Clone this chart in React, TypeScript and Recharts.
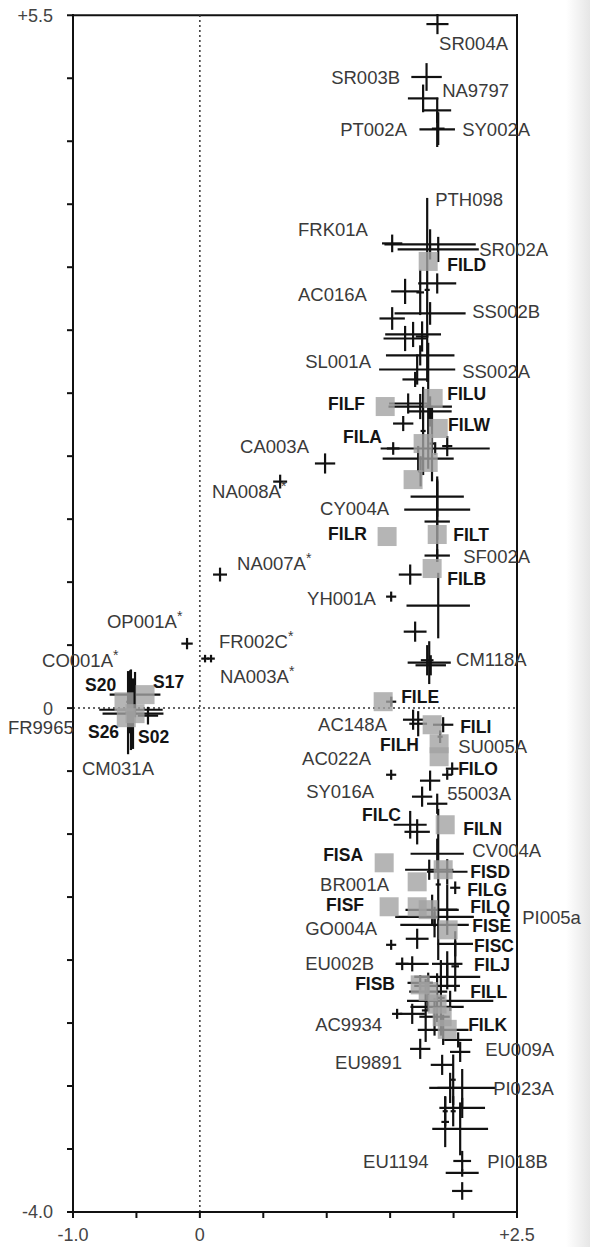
import { ScatterChart, Scatter, XAxis, YAxis, ErrorBar, ReferenceLine, ReferenceDot } from 'recharts';

// crosses: x, y and the half-length of each error bar (ex, ey)
const upperGroup = [
  { x: 1.873, y: 5.43, ex: 0.087, ey: 0.08 },
  { x: 1.787, y: 5.01, ex: 0.12, ey: 0.11 },
  { x: 1.76, y: 4.84, ex: 0.12, ey: 0.11 },
  { x: 1.871, y: 4.745, ex: 0.11, ey: 0.1 },
  { x: 1.871, y: 4.594, ex: 0.14, ey: 0.14 },
  { x: 1.879, y: 4.6, ex: 0.05, ey: 0.13 },
  { x: 1.516, y: 3.689, ex: 0.08, ey: 0.07 },
  { x: 1.815, y: 3.681, ex: 0.36, ey: 0.12 },
  { x: 1.879, y: 3.641, ex: 0.32, ey: 0.1 },
  { x: 1.792, y: 3.32, ex: 0.02, ey: 0.73 },
  { x: 1.871, y: 3.371, ex: 0.15, ey: 0.08 },
  { x: 1.618, y: 3.308, ex: 0.11, ey: 0.1 },
  { x: 1.737, y: 3.3, ex: 0.03, ey: 0.18 },
  { x: 1.815, y: 3.133, ex: 0.28, ey: 0.09 },
  { x: 1.516, y: 3.093, ex: 0.1, ey: 0.09 },
  { x: 1.681, y: 2.966, ex: 0.22, ey: 0.1 },
  { x: 1.618, y: 2.934, ex: 0.17, ey: 0.1 },
  { x: 1.752, y: 2.95, ex: 0.05, ey: 0.12 },
  { x: 1.737, y: 2.8, ex: 0.27, ey: 0.08 },
  { x: 1.713, y: 2.688, ex: 0.3, ey: 0.12 },
  { x: 1.697, y: 2.609, ex: 0.1, ey: 0.06 },
  { x: 1.642, y: 2.418, ex: 0.15, ey: 0.08 },
  { x: 1.737, y: 2.394, ex: 0.25, ey: 0.1 },
  { x: 1.815, y: 2.355, ex: 0.17, ey: 0.12 },
  { x: 1.603, y: 2.259, ex: 0.08, ey: 0.06 },
  { x: 1.524, y: 2.061, ex: 0.05, ey: 0.05 },
  { x: 1.855, y: 2.061, ex: 0.43, ey: 0.05 },
  { x: 1.95, y: 2.08, ex: 0.04, ey: 0.08 },
  { x: 1.721, y: 1.981, ex: 0.28, ey: 0.1 },
  { x: 1.8, y: 2.4, ex: 0.02, ey: 0.5 },
  { x: 1.76, y: 2.2, ex: 0.02, ey: 0.35 },
  { x: 1.83, y: 2.1, ex: 0.02, ey: 0.3 },
  { x: 1.74, y: 1.88, ex: 0.02, ey: 0.12 },
];

const middleGroup = [
  { x: 1.871, y: 1.679, ex: 0.21, ey: 0.16 },
  { x: 1.871, y: 1.576, ex: 0.26, ey: 0.24 },
  { x: 1.871, y: 1.481, ex: 0.1, ey: 0.32 },
  { x: 1.871, y: 1.211, ex: 0.1, ey: 0.05 },
  { x: 1.658, y: 1.06, ex: 0.09, ey: 0.08 },
  { x: 1.879, y: 0.814, ex: 0.25, ey: 0.26 },
  { x: 1.697, y: 0.607, ex: 0.09, ey: 0.08 },
  { x: 1.808, y: 0.361, ex: 0.17, ey: 0.17 },
  { x: 1.792, y: 0.38, ex: 0.05, ey: 0.12 },
  { x: 1.82, y: 0.34, ex: 0.12, ey: 0.08 },
  { x: 1.681, y: -0.092, ex: 0.08, ey: 0.08 },
  { x: 1.721, y: -0.124, ex: 0.07, ey: 0.1 },
  { x: 1.918, y: -0.132, ex: 0.08, ey: 0.06 },
  { x: 1.894, y: -0.227, ex: 0.02, ey: 0.05 },
  { x: 1.815, y: -0.576, ex: 0.08, ey: 0.08 },
  { x: 1.752, y: -0.703, ex: 0.08, ey: 0.08 },
  { x: 1.871, y: -0.759, ex: 0.08, ey: 0.08 },
  { x: 1.658, y: -0.926, ex: 0.13, ey: 0.11 },
  { x: 1.713, y: -0.982, ex: 0.1, ey: 0.1 },
  { x: 1.879, y: -1.4, ex: 0.02, ey: 0.6 },
];

const lowerGroup = [
  { x: 1.871, y: -1.156, ex: 0.21, ey: 0.12 },
  { x: 1.808, y: -1.283, ex: 0.19, ey: 0.08 },
  { x: 1.95, y: -1.299, ex: 0.16, ey: 0.1 },
  { x: 1.831, y: -1.601, ex: 0.21, ey: 0.12 },
  { x: 1.95, y: -1.6, ex: 0.08, ey: 0.2 },
  { x: 1.85, y: -1.657, ex: 0.31, ey: 0.08 },
  { x: 1.85, y: -1.72, ex: 0.27, ey: 0.1 },
  { x: 1.713, y: -1.831, ex: 0.09, ey: 0.08 },
  { x: 2.013, y: -1.871, ex: 0.14, ey: 0.1 },
  { x: 1.674, y: -2.03, ex: 0.13, ey: 0.06 },
  { x: 1.95, y: -2.03, ex: 0.12, ey: 0.1 },
  { x: 2.013, y: -2.05, ex: 0.03, ey: 0.2 },
  { x: 1.737, y: -2.181, ex: 0.1, ey: 0.06 },
  { x: 1.95, y: -2.133, ex: 0.26, ey: 0.1 },
  { x: 1.87, y: -2.205, ex: 0.18, ey: 0.1 },
  { x: 1.8, y: -2.25, ex: 0.15, ey: 0.15 },
  { x: 1.973, y: -2.324, ex: 0.34, ey: 0.08 },
  { x: 1.9, y: -2.3, ex: 0.03, ey: 0.3 },
  { x: 1.78, y: -2.4, ex: 0.03, ey: 0.25 },
  { x: 1.674, y: -2.427, ex: 0.1, ey: 0.08 },
  { x: 1.87, y: -2.372, ex: 0.21, ey: 0.12 },
  { x: 1.85, y: -2.45, ex: 0.12, ey: 0.15 },
  { x: 1.918, y: -2.554, ex: 0.2, ey: 0.12 },
  { x: 2.036, y: -2.634, ex: 0.11, ey: 0.06 },
  { x: 2.052, y: -2.729, ex: 0.08, ey: 0.08 },
  { x: 1.737, y: -2.705, ex: 0.08, ey: 0.08 },
  { x: 1.91, y: -2.832, ex: 0.09, ey: 0.08 },
  { x: 1.997, y: -2.95, ex: 0.02, ey: 0.2 },
  { x: 2.068, y: -3.015, ex: 0.26, ey: 0.15 },
  { x: 1.973, y: -3.015, ex: 0.1, ey: 0.12 },
  { x: 2.068, y: -3.174, ex: 0.18, ey: 0.08 },
  { x: 1.934, y: -3.2, ex: 0.02, ey: 0.12 },
  { x: 1.997, y: -3.2, ex: 0.02, ey: 0.12 },
  { x: 2.052, y: -3.34, ex: 0.22, ey: 0.21 },
  { x: 1.934, y: -3.285, ex: 0.03, ey: 0.2 },
  { x: 2.068, y: -3.595, ex: 0.07, ey: 0.08 },
  { x: 2.068, y: -3.69, ex: 0.13, ey: 0.03 },
  { x: 2.068, y: -3.833, ex: 0.08, ey: 0.07 },
];

const leftGroup = [
  { x: -0.543, y: -0.013, ex: 0.25, ey: 0.32 },
  { x: -0.527, y: -0.044, ex: 0.24, ey: 0.28 },
  { x: -0.511, y: 0.107, ex: 0.2, ey: 0.18 },
  { x: -0.55, y: 0.05, ex: 0.03, ey: 0.25 },
  { x: -0.409, y: -0.06, ex: 0.08, ey: 0.07 },
  { x: -0.566, y: -0.036, ex: 0.02, ey: 0.33 },
];

const smallMarks = [
  { x: 0.987, y: 1.942, ex: 0.08, ey: 0.08 },
  { x: 0.633, y: 1.798, ex: 0.055, ey: 0.055 },
  { x: 0.159, y: 1.06, ex: 0.055, ey: 0.055 },
  { x: 1.508, y: 0.885, ex: 0.04, ey: 0.04 },
  { x: -0.101, y: 0.512, ex: 0.045, ey: 0.045 },
  { x: 0.041, y: 0.393, ex: 0.03, ey: 0.03 },
  { x: 0.088, y: 0.393, ex: 0.03, ey: 0.03 },
  { x: 1.508, y: 0.051, ex: 0.04, ey: 0.04 },
  { x: 1.989, y: -0.481, ex: 0.05, ey: 0.05 },
  { x: 1.95, y: -0.529, ex: 0.04, ey: 0.04 },
  { x: 1.508, y: -0.529, ex: 0.04, ey: 0.04 },
  { x: 2.013, y: -1.426, ex: 0.04, ey: 0.05 },
  { x: 1.508, y: -1.879, ex: 0.04, ey: 0.04 },
  { x: 1.595, y: -2.03, ex: 0.05, ey: 0.05 },
  { x: 1.555, y: -2.427, ex: 0.04, ey: 0.04 },
];

// grey squares (FIL*, FIS*, S*)
const filSquares = [
  { x: 1.8, y: 3.546 }, { x: 1.461, y: 2.394 }, { x: 1.839, y: 2.458 }, { x: 1.879, y: 2.22 },
  { x: 1.8, y: 1.95 }, { x: 1.76, y: 2.1 }, { x: 1.681, y: 1.814 }, { x: 1.476, y: 1.362 },
  { x: 1.871, y: 1.378 }, { x: 1.831, y: 1.108 }, { x: 1.445, y: 0.051 }, { x: 1.831, y: -0.132 },
  { x: 1.886, y: -0.283 }, { x: 1.886, y: -0.386 }, { x: 1.934, y: -0.926 }, { x: 1.453, y: -1.228 },
  { x: 1.713, y: -1.379 }, { x: 1.918, y: -1.283 }, { x: 1.492, y: -1.577 }, { x: 1.713, y: -1.577 },
  { x: 1.8, y: -1.6 }, { x: 1.957, y: -1.76 }, { x: 1.737, y: -2.197 }, { x: 1.8, y: -2.25 },
  { x: 1.87, y: -2.35 }, { x: 1.91, y: -2.45 }, { x: 1.95, y: -2.55 },
];
const sSquares = [
  { x: -0.598, y: 0.05 }, { x: -0.432, y: 0.107 }, { x: -0.511, y: -0.044 }, { x: -0.58, y: -0.076 },
];

// label anchors (left edge of the text, vertical centre)
const plainLabels = [
  { name: 'SR004A', x: 1.886, y: 5.278 },
  { name: 'SR003B', x: 1.035, y: 5.008 },
  { name: 'NA9797', x: 1.91, y: 4.904 },
  { name: 'PT002A', x: 1.106, y: 4.594 },
  { name: 'SY002A', x: 2.068, y: 4.594 },
  { name: 'PTH098', x: 1.855, y: 4.038 },
  { name: 'FRK01A', x: 0.774, y: 3.8 },
  { name: 'SR002A', x: 2.202, y: 3.641 },
  { name: 'AC016A', x: 0.774, y: 3.284 },
  { name: 'SS002B', x: 2.147, y: 3.149 },
  { name: 'SL001A', x: 0.83, y: 2.752 },
  { name: 'SS002A', x: 2.068, y: 2.672 },
  { name: 'CA003A', x: 0.317, y: 2.077 },
  { name: 'NA008A*', x: 0.096, y: 1.719 },
  { name: 'CY004A', x: 0.948, y: 1.584 },
  { name: 'SF002A', x: 2.076, y: 1.203 },
  { name: 'NA007A*', x: 0.293, y: 1.147 },
  { name: 'YH001A', x: 0.845, y: 0.869 },
  { name: 'OP001A*', x: -0.732, y: 0.687 },
  { name: 'FR002C*', x: 0.151, y: 0.528 },
  { name: 'CM118A', x: 2.02, y: 0.385 },
  { name: 'CO001A*', x: -1.244, y: 0.377 },
  { name: 'NA003A*', x: 0.159, y: 0.25 },
  { name: 'FR9965', x: -1.513, y: -0.155 },
  { name: 'AC148A', x: 0.932, y: -0.132 },
  { name: 'SU005A', x: 2.036, y: -0.306 },
  { name: 'AC022A', x: 0.806, y: -0.402 },
  { name: 'CM031A', x: -0.929, y: -0.481 },
  { name: 'SY016A', x: 0.838, y: -0.664 },
  { name: '55003A', x: 1.95, y: -0.68 },
  { name: 'CV004A', x: 2.147, y: -1.13 },
  { name: 'BR001A', x: 0.948, y: -1.395 },
  { name: 'PI005a', x: 2.541, y: -1.657 },
  { name: 'GO004A', x: 0.83, y: -1.752 },
  { name: 'EU002B', x: 0.83, y: -2.03 },
  { name: 'AC9934', x: 0.909, y: -2.514 },
  { name: 'EU009A', x: 2.249, y: -2.705 },
  { name: 'EU9891', x: 1.066, y: -2.808 },
  { name: 'PI023A', x: 2.312, y: -3.015 },
  { name: 'EU1194', x: 1.287, y: -3.595 },
  { name: 'PI018B', x: 2.265, y: -3.595 },
];

const boldLabels = [
  { name: 'FILD', x: 1.95, y: 3.522 },
  { name: 'FILF', x: 1.011, y: 2.418 },
  { name: 'FILU', x: 1.95, y: 2.498 },
  { name: 'FILW', x: 1.957, y: 2.251 },
  { name: 'FILA', x: 1.129, y: 2.156 },
  { name: 'FILR', x: 1.011, y: 1.386 },
  { name: 'FILT', x: 1.997, y: 1.378 },
  { name: 'FILB', x: 1.95, y: 1.028 },
  { name: 'S20', x: -0.905, y: 0.186 },
  { name: 'S17', x: -0.369, y: 0.21 },
  { name: 'FILE', x: 1.587, y: 0.091 },
  { name: 'FILI', x: 2.052, y: -0.147 },
  { name: 'S26', x: -0.882, y: -0.187 },
  { name: 'S02', x: -0.487, y: -0.227 },
  { name: 'FILH', x: 1.421, y: -0.291 },
  { name: 'FILO', x: 2.036, y: -0.481 },
  { name: 'FILC', x: 1.279, y: -0.847 },
  { name: 'FILN', x: 2.076, y: -0.958 },
  { name: 'FISA', x: 0.972, y: -1.164 },
  { name: 'FISD', x: 2.131, y: -1.3 },
  { name: 'FILG', x: 2.107, y: -1.445 },
  { name: 'FISF', x: 0.995, y: -1.561 },
  { name: 'FILQ', x: 2.131, y: -1.58 },
  { name: 'FISE', x: 2.147, y: -1.73 },
  { name: 'FISC', x: 2.162, y: -1.885 },
  { name: 'FILJ', x: 2.162, y: -2.035 },
  { name: 'FISB', x: 1.224, y: -2.189 },
  { name: 'FILL', x: 2.131, y: -2.252 },
  { name: 'FILK', x: 2.115, y: -2.514 },
];

const xTicks = [-1, -0.5, 0, 0.5, 1, 1.5, 2, 2.5];
const yTicks = [-4, -3.5, -3, -2.5, -2, -1.5, -1, -0.5, 0, 0.5, 1, 1.5, 2, 2.5, 3, 3.5, 4, 4.5, 5, 5.5];
const xTickText: Record<string, string> = { '-1': '-1.0', '0': '0', '2.5': '+2.5' };
const yTickText: Record<string, string> = { '-4': '-4.0', '0': '0', '5.5': '+5.5' };

const FONT = '"Liberation Sans", Arial, Helvetica, sans-serif';
const INK = '#111';

const NoDot = () => <g />;

const GreySquare = (props: any) => {
  const { cx, cy } = props;
  return <rect x={cx - 9.5} y={cy - 9.5} width={19} height={19} fill="#a3a3a3" fillOpacity={0.8} />;
};

const XTick = (props: any) => {
  const { x, y, payload } = props;
  const t = xTickText[String(payload.value)];
  if (!t) return <g />;
  return (
    <text x={x} y={y + 15} dy="0.36em" textAnchor="middle" fontFamily={FONT} fontSize={18} fill="#444">
      {t}
    </text>
  );
};

const YTick = (props: any) => {
  const { x, y, payload } = props;
  const t = yTickText[String(payload.value)];
  if (!t) return <g />;
  return (
    <text x={x - 12} y={y} dy="0.36em" textAnchor="end" fontFamily={FONT} fontSize={18} fill="#444">
      {t}
    </text>
  );
};

function Tag({ cx, cy, text, bold }: { cx: number; cy: number; text: string; bold?: boolean }) {
  const star = text.endsWith('*');
  const main = star ? text.slice(0, -1) : text;
  return (
    <text
      x={cx}
      y={cy}
      dy="0.36em"
      fontFamily={FONT}
      fontSize={bold ? 17.5 : 18.5}
      fontWeight={bold ? 700 : 400}
      fill={bold ? '#141414' : '#3a3a3a'}
    >
      {main}
      {star && (
        <tspan dy={-7} fontSize={14}>
          *
        </tspan>
      )}
    </text>
  );
}

export default function App() {
  const crossSets = [upperGroup, middleGroup, lowerGroup, leftGroup, smallMarks];
  return (
    <div
      style={{
        position: 'absolute',
        left: 0,
        top: 0,
        width: 590,
        height: 1247,
        background: 'linear-gradient(90deg, #ffffff 0px, #ffffff 566px, #e6e6e6 590px)',
        fontFamily: FONT,
      }}
    >
      <ScatterChart width={590} height={1247} margin={{ top: 14, right: 73, bottom: 0, left: 0 }}>
        <XAxis
          type="number"
          dataKey="x"
          domain={[-1, 2.5]}
          ticks={xTicks}
          interval={0}
          height={35}
          tickSize={6}
          tick={XTick}
          axisLine={{ stroke: INK, strokeWidth: 2 }}
          tickLine={{ stroke: INK, strokeWidth: 2 }}
        />
        <YAxis
          type="number"
          dataKey="y"
          domain={[-4, 5.5]}
          ticks={yTicks}
          interval={0}
          width={73}
          tickSize={6}
          tick={YTick}
          axisLine={{ stroke: INK, strokeWidth: 2 }}
          tickLine={{ stroke: INK, strokeWidth: 2 }}
        />
        <ReferenceLine y={5.5} stroke={INK} strokeWidth={2} />
        <ReferenceLine x={2.5} stroke={INK} strokeWidth={2} />
        <ReferenceLine x={0} stroke="#333" strokeWidth={1.5} strokeDasharray="2 3" />
        <ReferenceLine y={0} stroke="#333" strokeWidth={1.5} strokeDasharray="2 3" />

        <Scatter data={filSquares} shape={GreySquare} isAnimationActive={false} />
        <Scatter data={sSquares} shape={GreySquare} isAnimationActive={false} />

        {crossSets.map((set, i) => (
          <Scatter key={i} data={set} shape={NoDot} isAnimationActive={false}>
            <ErrorBar dataKey="ex" direction="x" width={0} stroke={INK} strokeWidth={2.2} isAnimationActive={false} />
            <ErrorBar dataKey="ey" direction="y" width={0} stroke={INK} strokeWidth={2.2} isAnimationActive={false} />
          </Scatter>
        ))}

        {plainLabels.map((l) => (
          <ReferenceDot
            key={l.name}
            x={l.x}
            y={l.y}
            r={1}
            ifOverflow="visible"
            shape={(p: any) => <Tag cx={p.cx} cy={p.cy} text={l.name} />}
          />
        ))}
        {boldLabels.map((l) => (
          <ReferenceDot
            key={l.name}
            x={l.x}
            y={l.y}
            r={1}
            ifOverflow="visible"
            shape={(p: any) => <Tag cx={p.cx} cy={p.cy} text={l.name} bold />}
          />
        ))}
      </ScatterChart>
    </div>
  );
}
